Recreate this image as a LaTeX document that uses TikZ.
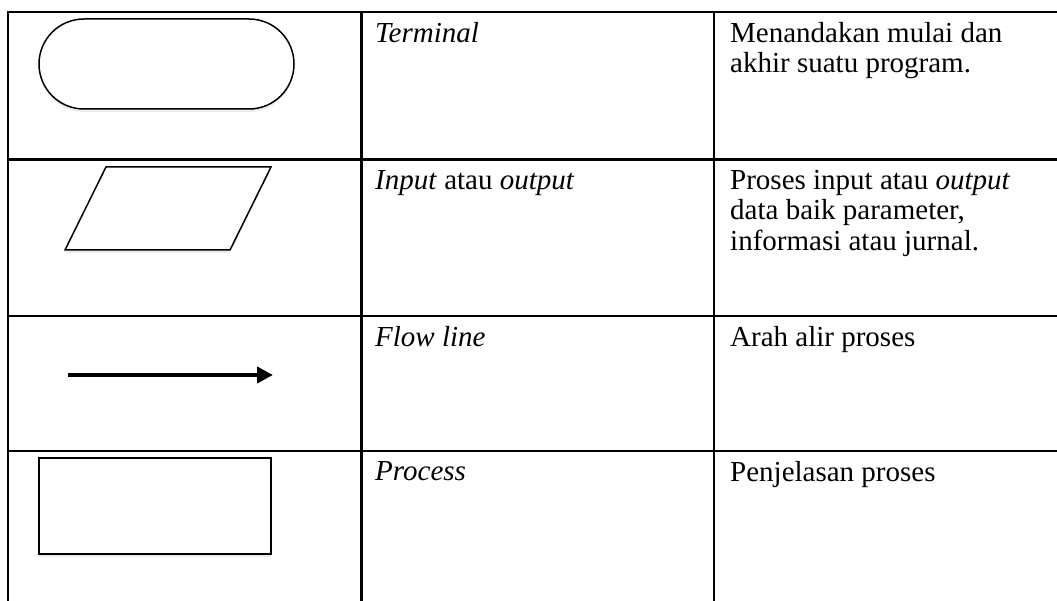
\documentclass[tikz,border=0pt]{standalone}
\usepackage{fontspec}
\setmainfont{Liberation Serif}
\usetikzlibrary{positioning,arrows.meta,shadows}

\tikzset{
  rule/.style={line width=2.4pt},
  symbol/.style={draw, line width=1.5pt, fill=white,
    drop shadow={shadow xshift=0pt, shadow yshift=-3pt, opacity=0.15}},
  celltext/.style={anchor=north west, inner sep=0pt, align=left,
    font=\fontsize{29}{30.5}\selectfont},
}

\begin{document}
\begin{tikzpicture}[x=1pt, y=-1pt]
  \useasboundingbox (0,0) rectangle (1057,601);
  % table rules
  \draw [rule] (1057,12) -- (8,12) -- (8,601);
  \foreach \y in {159.5, 316, 451} \draw [rule] (8,\y) -- (1057,\y);
  \foreach \x in {361.5, 714} \draw [rule] (\x,12) -- (\x,601);

  % symbols
  \node (term) [symbol, rounded corners=45pt, minimum width=255pt, minimum height=90pt] at (166.5,64) {};
  \draw [symbol] (106,167) -- (271,167) -- (230,250) -- (65,250) -- cycle;
  \coordinate (flow start) at (68,375);
  \coordinate (flow end) at (273,375);
  \draw [line width=4.5pt, -{Triangle[length=16pt, width=16pt]}] (flow start) -- (flow end);
  \node (proc) [symbol, minimum width=232pt, minimum height=96pt] at (155,506) {};

  % texts
  \node (term name) [celltext] at (375,22) {\textit{Terminal}};
  \node (term desc) [celltext] at (730,22) {Menandakan mulai dan\\akhir suatu program.};
  \node (io name) [celltext] at (375,170) {\textit{Input} atau \textit{output}};
  \node (io desc) [celltext] at (730,170) {Proses input atau \textit{output}\\data baik parameter,\\informasi atau jurnal.};
  \node (flow name) [celltext] at (375,326) {\textit{Flow line}};
  \node (flow desc) [celltext] at (730,326) {Arah alir proses};
  \node (proc name) [celltext] at (375,461) {\textit{Process}};
  \node (proc desc) [celltext] at (730,461) {Penjelasan proses};
\end{tikzpicture}
\end{document}
